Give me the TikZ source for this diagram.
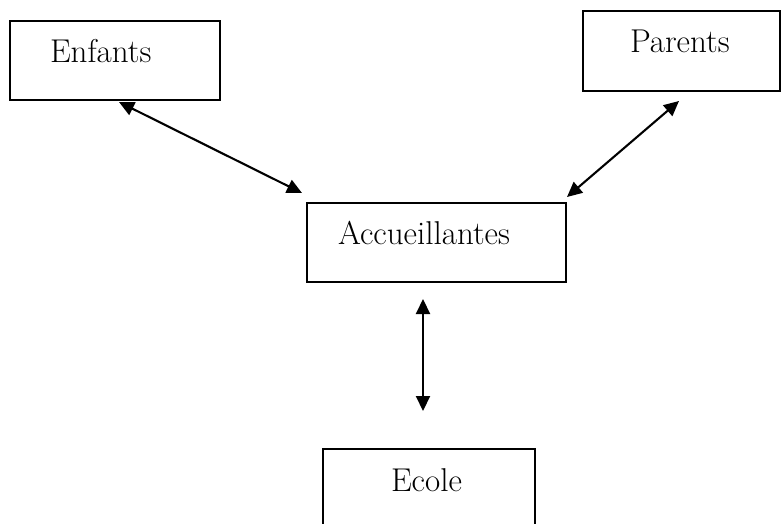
\documentclass[tikz,border=0pt]{standalone}
\usetikzlibrary{arrows.meta}
\begin{document}
\begin{tikzpicture}[x=1pt,y=-1pt,
  boxnode/.style={draw, line width=1.8pt, inner sep=0pt, outer sep=0pt,
    anchor=north west, align=left, font=\fontsize{33}{40}\selectfont},
  link/.style={line width=2.1pt, {Triangle[length=15pt,width=14pt]}-{Triangle[length=15pt,width=14pt]}}]
\clip (0,0) rectangle (781,524);
\fill[white] (0,0) rectangle (781,524);
\node[boxnode, text width=210pt, text height=42pt, text depth=37pt] (enf) at (10,21) {\hspace*{40pt}Enfants};
\node[boxnode, text width=197pt, text height=42pt, text depth=38pt] (par) at (583,11) {\hspace*{47pt}Parents};
\node[boxnode, text width=259pt, text height=41pt, text depth=38pt] (acc) at (307,203) {\hspace*{31pt}Accueillantes};
\node[boxnode, text width=212pt, text height=42pt, text depth=69pt] (eco) at (323,449) {\hspace*{68pt}Ecole};
\coordinate (a1s) at (119,102);
\coordinate (a1e) at (302,193);
\coordinate (a2s) at (679,101);
\coordinate (a2e) at (567,197);
\coordinate (a3s) at (423,299);
\coordinate (a3e) at (423,411);
\draw[link] (a1s) -- (a1e);
\draw[link] (a2s) -- (a2e);
\draw[link] (a3s) -- (a3e);
\end{tikzpicture}
\end{document}
